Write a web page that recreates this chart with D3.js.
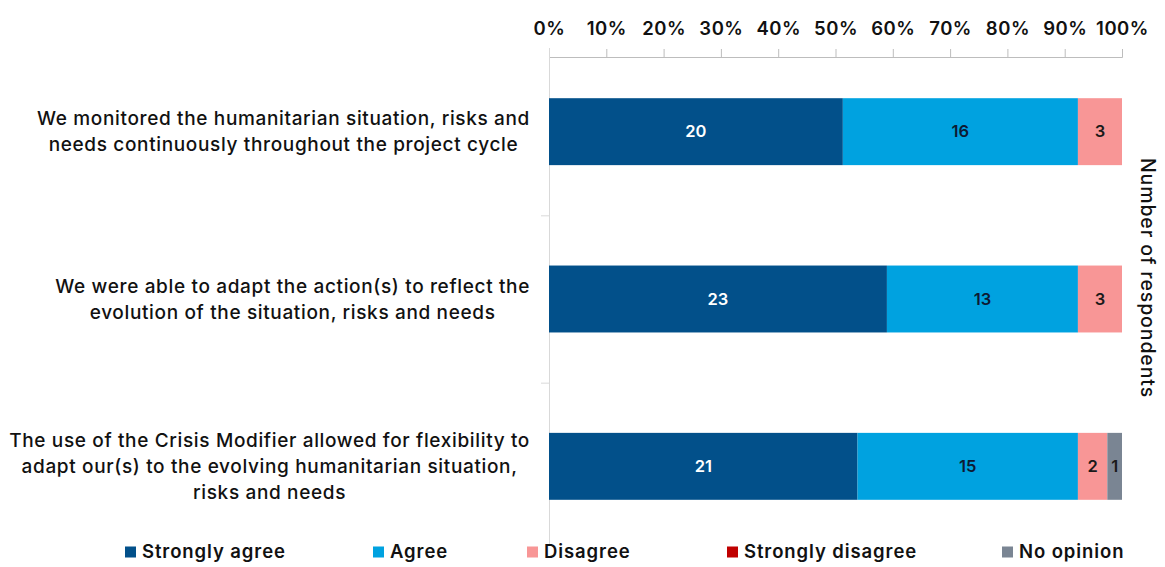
<!DOCTYPE html>
<html>
<head>
<meta charset="utf-8">
<script src="https://cdn.jsdelivr.net/npm/d3@7"></script>
<style>
  body { margin: 0; background: #fff; }
  svg text { font-family: Inter, "Open Sans", sans-serif; }
</style>
</head>
<body>
<div id="chart"></div>
<script>
/* Data */
const categories = [
  ["We monitored the humanitarian situation, risks and", "needs continuously throughout the project cycle"],
  ["We were able to adapt the action(s) to reflect the", "evolution of the situation, risks and needs"],
  ["The use of the Crisis Modifier allowed for flexibility to", "adapt our(s) to the evolving humanitarian situation,", "risks and needs"]
];
const seriesNames = ["Strongly agree", "Agree", "Disagree", "Strongly disagree", "No opinion"];
const stronglyAgree = [20, 23, 21];
const agree = [16, 13, 15];
const disagree = [3, 3, 2];
const stronglyDisagree = [0, 0, 0];
const noOpinion = [0, 0, 1];
const tickLabels = ["0%", "10%", "20%", "30%", "40%", "50%", "60%", "70%", "80%", "90%", "100%"];

const COLORS = ["#02508a", "#00a2e0", "#f89696", "#c00000", "#7a8593"];
const LABEL_COLORS = ["#ffffff", "#0d1a33", "#1a1a1a", "#ffffff", "#1a1a1a"];

const WIDTH = 1165;
const HEIGHT = 567;
const PLOT_LEFT = 549;
const PLOT_RIGHT = 1122;

/* Build rows */
const series = [stronglyAgree, agree, disagree, stronglyDisagree, noOpinion];
const rows = categories.map((c, i) => {
  const row = { idx: i };
  seriesNames.forEach((s, j) => { row[s] = series[j][i]; });
  return row;
});
const totals = rows.map(r => d3.sum(seriesNames, s => r[s]));
const pctRows = rows.map((r, i) => {
  const o = { idx: i };
  seriesNames.forEach(s => { o[s] = r[s] / totals[i]; });
  return o;
});
const stacked = d3.stack().keys(seriesNames)(pctRows);

const svg = d3.select("#chart").append("svg")
  .attr("width", WIDTH)
  .attr("height", HEIGHT);

const xScale = d3.scaleLinear().domain([0, 1]).range([PLOT_LEFT, PLOT_RIGHT]);
const yScale = d3.scaleBand().domain(d3.range(categories.length)).range([48, 550]).paddingInner(0.6).paddingOuter(0.3);
const yGrid = d3.scaleBand().domain(d3.range(categories.length)).range([48, 550]);

/* top axis */
const xAxis = d3.axisTop(xScale)
  .tickValues(d3.range(0, 1.0001, 0.1))
  .tickFormat((d, i) => tickLabels[i])
  .tickSize(8)
  .tickSizeOuter(8);
const gx = svg.append("g").attr("transform", "translate(0,57)").call(xAxis);
gx.select(".domain").attr("stroke", "#bdbdbd");
gx.selectAll(".tick line").attr("stroke", "#bdbdbd");
gx.selectAll(".tick text")
  .attr("y", -22)
  .attr("fill", "#111")
  .style("font-size", "18.5px")
  .style("font-weight", 600)
  .style("letter-spacing", "0.5px");

/* vertical category axis */
svg.append("line")
  .attr("x1", PLOT_LEFT + 0.5).attr("x2", PLOT_LEFT + 0.5)
  .attr("y1", 48).attr("y2", 546)
  .attr("stroke", "#d9d9d9");
svg.selectAll(".cattick")
  .data(d3.range(1, categories.length))
  .enter().append("line")
  .attr("x1", PLOT_LEFT - 8).attr("x2", PLOT_LEFT)
  .attr("y1", d => yGrid(d) + 0.5).attr("y2", d => yGrid(d) + 0.5)
  .attr("stroke", "#d9d9d9");

/* bars */
const layers = svg.selectAll(".layer")
  .data(stacked)
  .enter().append("g")
  .attr("fill", (d, i) => COLORS[i]);
layers.selectAll("rect")
  .data(d => d)
  .enter().append("rect")
  .attr("x", d => xScale(d[0]))
  .attr("y", d => yScale(d.data.idx))
  .attr("width", d => xScale(d[1]) - xScale(d[0]))
  .attr("height", yScale.bandwidth());

/* bar labels */
stacked.forEach((layer, j) => {
  svg.append("g").selectAll("text")
    .data(layer.filter(d => rows[d.data.idx][seriesNames[j]] > 0))
    .enter().append("text")
    .attr("x", d => (xScale(d[0]) + xScale(d[1])) / 2)
    .attr("y", d => yScale(d.data.idx) + yScale.bandwidth() / 2)
    .attr("dy", "0.35em")
    .attr("text-anchor", "middle")
    .attr("fill", LABEL_COLORS[j])
    .style("font-size", "16.5px")
    .style("font-weight", 600)
    .text(d => rows[d.data.idx][seriesNames[j]]);
});

/* category labels */
const LINE_H = 26;
categories.forEach((lines, i) => {
  const cy = yScale(i) + yScale.bandwidth() / 2;
  const g = svg.append("g");
  const texts = g.selectAll("text")
    .data(lines)
    .enter().append("text")
    .attr("y", (d, k) => cy + (k - (lines.length - 1) / 2) * LINE_H)
    .attr("dy", "0.35em")
    .attr("text-anchor", "middle")
    .attr("fill", "#111")
    .style("font-size", "19px")
    .style("font-weight", 500)
    .style("letter-spacing", "0.65px")
    .text(d => d);
  let maxW = 0;
  texts.each(function() { maxW = Math.max(maxW, this.getComputedTextLength()); });
  texts.attr("x", 530 - maxW / 2);
});

/* right axis title */
svg.append("text")
  .attr("transform", "translate(1141," + 278 + ") rotate(90)")
  .attr("text-anchor", "middle")
  .attr("fill", "#111")
  .style("font-size", "19.5px")
  .style("font-weight", 500)
  .style("letter-spacing", "0.9px")
  .text("Number of respondents");

/* legend */
const legendX = [125, 373, 527, 727, 1002];
const legend = svg.selectAll(".legend")
  .data(seriesNames)
  .enter().append("g")
  .attr("transform", (d, i) => "translate(" + legendX[i] + ",552)");
legend.append("rect")
  .attr("x", 0).attr("y", -5.5)
  .attr("width", 11).attr("height", 11)
  .attr("fill", (d, i) => COLORS[i]);
legend.append("text")
  .attr("x", 17)
  .attr("dy", "0.35em")
  .attr("fill", "#111")
  .style("font-size", "18.5px")
  .style("font-weight", 600)
  .style("letter-spacing", "0.9px")
  .text(d => d);
</script>
</body>
</html>
